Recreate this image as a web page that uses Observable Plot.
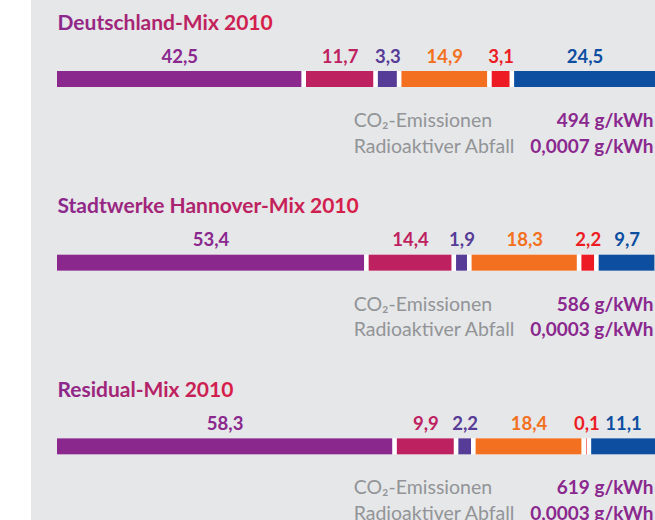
<!DOCTYPE html>
<html><head><meta charset="utf-8">
<script src="https://cdn.jsdelivr.net/npm/d3@7"></script>
<script src="https://cdn.jsdelivr.net/npm/@observablehq/plot@0.6"></script>
<style>
html,body{margin:0;padding:0;background:#fff;overflow:hidden;width:655px;height:520px;}
#panel{position:absolute;left:31px;top:0;width:624px;height:520px;background:#E6E7E9;}
#chart{position:absolute;left:0;top:0;}
</style></head><body>
<div id="panel"></div><div id="chart"></div>
<script>
// ---- data ----
const sections = ["Deutschland-Mix 2010", "Stadtwerke Hannover-Mix 2010", "Residual-Mix 2010"];
const sources = ["Kohle", "Erdgas", "Sonstige fossile", "Kernenergie", "Sonstige erneuerbare", "Erneuerbare (EEG)"];
const colors = ["#8A288E", "#BE2160", "#573C97", "#F37021", "#ED1C24", "#0D4EA1"];
const deutschland = [42.5, 11.7, 3.3, 14.9, 3.1, 24.5];
const hannover = [53.4, 14.4, 1.9, 18.3, 2.2, 9.7];
const residual = [58.3, 9.9, 2.2, 18.4, 0.1, 11.1];
const co2 = [494, 586, 619];
const radioactive = [0.0007, 0.0003, 0.0003];
const co2Label = "CO₂-Emissionen";
const radLabel = "Radioaktiver Abfall";

// ---- layout ----
const GAP = 0.8;            // white gap between segments, in % units
const STEP = 183.67;        // section height
const ROW = {title: 29.3, label: 62.2, barTop: 71, barBottom: 87, co2: 126.5, rad: 152};
const TEXT_X = 51.5;        // start of the emission labels, in % units

const loc = d3.formatLocale({decimal: ",", thousands: ".", grouping: [3], currency: ["", "€"]});
const f1 = loc.format(".1f");
const f4 = loc.format(".4f");

const mixes = [deutschland, hannover, residual];
const segments = [];
const rows = [];
mixes.forEach((vals, s) => {
  let acc = 0;
  vals.forEach((v, k) => {
    segments.push({s, section: sections[s], source: sources[k], value: v, x1: acc, x2: acc + v});
    acc += v + (k < vals.length - 1 ? GAP : 0);
  });
  rows.push({s, title: sections[s], total: acc, co2: co2[s] + " g/kWh", rad: f4(radioactive[s]) + " g/kWh"});
});
const yy = key => d => d.s + ROW[key] / STEP;

const chart = Plot.plot({
  width: 655, height: 520,
  marginLeft: 57, marginRight: 0, marginTop: 0, marginBottom: 0,
  x: {domain: [0, 100 + 5 * GAP], range: [57, 655], axis: null},
  y: {domain: [0, 3], range: [0, 3 * STEP], axis: null},
  color: {domain: sources, range: colors},
  style: {background: "transparent", fontFamily: "Lato, 'Open Sans', sans-serif", overflow: "visible"},
  marks: [
    Plot.rect(rows, {x1: 0, x2: "total", y1: yy("barTop"), y2: yy("barBottom"), fill: "white"}),
    Plot.rect(segments, {x1: "x1", x2: "x2", y1: yy("barTop"), y2: yy("barBottom"), fill: "source"}),
    Plot.text(segments, {x: d => (d.x1 + d.x2) / 2, y: yy("label"), text: d => f1(d.value), fill: "source",
      fontSize: 18.5, fontWeight: 700, lineAnchor: "bottom", ariaLabel: "value-labels"}),
    Plot.text(rows, {x: 0, y: yy("title"), text: "title", fill: "url(#titleGrad)", fontSize: 21, fontWeight: 700,
      textAnchor: "start", lineAnchor: "bottom"}),
    Plot.text(rows, {x: TEXT_X, y: yy("co2"), text: () => co2Label, fill: "#929497", fontSize: 19.5, fontWeight: 400,
      textAnchor: "start", lineAnchor: "bottom"}),
    Plot.text(rows, {x: TEXT_X, y: yy("rad"), text: () => radLabel, fill: "#929497", fontSize: 19.5, fontWeight: 400,
      textAnchor: "start", lineAnchor: "bottom"}),
    Plot.text(rows, {frameAnchor: "right", y: yy("co2"), text: "co2", fill: "#8A288E", fontSize: 19, fontWeight: 700,
      textAnchor: "end", lineAnchor: "bottom", dx: -2}),
    Plot.text(rows, {frameAnchor: "right", y: yy("rad"), text: "rad", fill: "#8A288E", fontSize: 19, fontWeight: 700,
      textAnchor: "end", lineAnchor: "bottom", dx: -2})
  ]
});

const svg = d3.select(chart);
const grad = svg.insert("defs", ":first-child").append("linearGradient")
  .attr("id", "titleGrad").attr("x1", 0).attr("x2", 1).attr("y1", 0).attr("y2", 0);
grad.append("stop").attr("offset", "0%").attr("stop-color", "#8A288E");
grad.append("stop").attr("offset", "100%").attr("stop-color", "#D91E46");
svg.selectAll('g[aria-label="value-labels"] text').style("letter-spacing", "0.9px");
document.getElementById("chart").appendChild(chart);
</script>
</body></html>
